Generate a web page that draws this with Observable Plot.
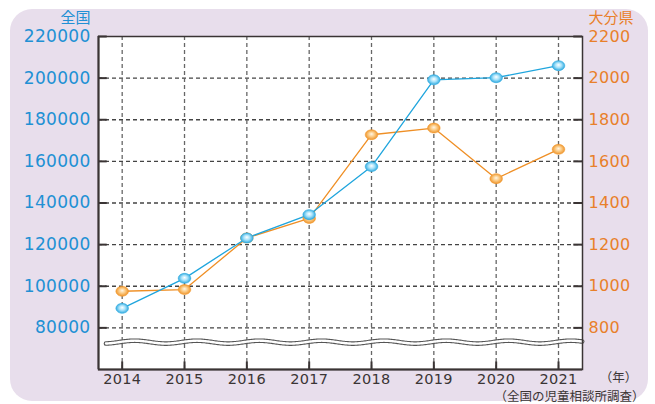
<!DOCTYPE html>
<html>
<head>
<meta charset="utf-8">
<script src="https://cdn.jsdelivr.net/npm/d3@7"></script>
<script src="https://cdn.jsdelivr.net/npm/@observablehq/plot@0.6"></script>
<style>
  html, body { margin: 0; padding: 0; background: #ffffff; }
  #wrap { position: relative; width: 655px; height: 404px; }
  #bg { position: absolute; left: 10px; top: 9px; width: 638px; height: 392px; background: #E8DEEC; border-radius: 22px; }
  #chart { position: absolute; left: 0; top: 0; }
</style>
</head>
<body>
<div id="wrap"><div id="bg"></div><div id="chart"></div></div>
<script>
const years = [2014, 2015, 2016, 2017, 2018, 2019, 2020, 2021];
const national = [89400, 103800, 123200, 134400, 157500, 199200, 200200, 206000];
const oita = [976, 984, 1232, 1326, 1728, 1760, 1517, 1658];
const leftTicks = [80000, 100000, 120000, 140000, 160000, 180000, 200000, 220000];
const rightTicks = [800, 1000, 1200, 1400, 1600, 1800, 2000, 2200];
const gridTicks = [80000, 100000, 120000, 140000, 160000, 180000, 200000];
const leftTitle = "全国";
const rightTitle = "大分県";
const unitLabel = "（年）";
const caption = "（全国の児童相談所調査）";

const ratio = 100; // right axis value * ratio -> left axis scale
const xDomain = [2013.62, 2021.385];
const yDomain = [60000, 220000];

const natData = years.map((y, i) => ({year: y, value: national[i]}));
const oitaData = years.map((y, i) => ({year: y, value: oita[i] * ratio}));

// decorative axis-break wave (not data)
const waveBase = 73150, waveAmp = 700;
const wave = d3.range(2013.74, xDomain[1] + 0.0001, 0.02).map(x => ({x, y: waveBase + waveAmp * Math.cos(2 * Math.PI * (x - 2014.2))}));

const ellipse = {
  draw(ctx) {
    const rx = 6.3, ry = 5, k = 0.5523;
    ctx.moveTo(rx, 0);
    ctx.bezierCurveTo(rx, ry * k, rx * k, ry, 0, ry);
    ctx.bezierCurveTo(-rx * k, ry, -rx, ry * k, -rx, 0);
    ctx.bezierCurveTo(-rx, -ry * k, -rx * k, -ry, 0, -ry);
    ctx.bezierCurveTo(rx * k, -ry, rx, -ry * k, rx, 0);
    ctx.closePath();
  }
};

const blue = "#1FA5DD", orange = "#EF8F25";
const numFont = "DejaVu Sans, Liberation Sans, sans-serif";
const jpFont = "Noto Sans CJK JP, sans-serif";
const x0 = xDomain[0];

const svg = Plot.plot({
  width: 655,
  height: 404,
  marginLeft: 98,
  marginRight: 73,
  marginTop: 36,
  marginBottom: 35,
  style: {background: "transparent", overflow: "visible"},
  x: {domain: xDomain, axis: null},
  y: {domain: yDomain, axis: null},
  marks: [
    Plot.frame({fill: "white", stroke: "none"}),
    Plot.ruleY(gridTicks, {stroke: "#444", strokeWidth: 1.3, strokeDasharray: "4,3"}),
    Plot.ruleX(years, {stroke: "#666", strokeWidth: 1.3, strokeDasharray: "4,3"}),
    Plot.line(wave, {x: "x", y: "y", stroke: "#555", strokeWidth: 4.6, curve: "linear"}),
    Plot.line(wave, {x: "x", y: "y", stroke: "white", strokeWidth: 2.4, curve: "linear"}),
    Plot.line(oitaData, {x: "year", y: "value", stroke: orange, strokeWidth: 1.3}),
    Plot.line(natData, {x: "year", y: "value", stroke: blue, strokeWidth: 1.3}),
    Plot.dot(oitaData, {x: "year", y: "value", symbol: ellipse, fill: "url(#gOrange)", stroke: "#F39A2E", strokeWidth: 0.5}),
    Plot.dot(natData, {x: "year", y: "value", symbol: ellipse, fill: "url(#gBlue)", stroke: "#2AAAE0", strokeWidth: 0.5}),
    Plot.frame({stroke: "#3a3434", strokeWidth: 1.5}),
    Plot.ruleX([x0], {stroke: "#3a3434", strokeWidth: 2}),
    Plot.ruleY([yDomain[0]], {stroke: "#3a3434", strokeWidth: 2}),
    Plot.ruleY(leftTicks, {x1: x0, x2: x0 + 0.14, stroke: "#3a3434", strokeWidth: 2}),
    Plot.ruleY(rightTicks.map(d => d * ratio), {x1: xDomain[1] - 0.14, x2: xDomain[1], stroke: "#3a3434", strokeWidth: 2}),
    Plot.ruleX(years, {y1: yDomain[0], y2: yDomain[0] + 3600, stroke: "#3a3434", strokeWidth: 2}),
    Plot.text(leftTicks, {y: d => d, text: d => String(d), frameAnchor: "left", dx: -8, textAnchor: "end", fill: "#2190D4", fontSize: 17, fontFamily: numFont}),
    Plot.text(rightTicks, {y: d => d * ratio, text: d => String(d), frameAnchor: "right", dx: 6, textAnchor: "start", fill: "#E8802A", fontSize: 16, fontFamily: numFont}),
    Plot.text(years, {x: d => d, text: d => String(d), frameAnchor: "bottom", lineAnchor: "top", dy: 4, fill: "#3b3535", fontSize: 14.5, fontFamily: numFont}),
    Plot.text([leftTitle], {frameAnchor: "top-left", dx: -8, dy: -14, textAnchor: "end", lineAnchor: "bottom", fill: "#2190D4", fontSize: 15, fontFamily: jpFont}),
    Plot.text([rightTitle], {frameAnchor: "top-right", dx: 6, dy: -14, textAnchor: "start", lineAnchor: "bottom", fill: "#E8802A", fontSize: 15, fontFamily: jpFont}),
    Plot.text([unitLabel], {frameAnchor: "bottom-right", dx: 36, dy: 4, textAnchor: "middle", lineAnchor: "top", fill: "#3b3535", fontSize: 12.5, fontFamily: jpFont}),
    Plot.text([caption], {frameAnchor: "bottom-right", dx: 62, dy: 23, textAnchor: "end", lineAnchor: "top", fill: "#3b3535", fontSize: 12.5, fontFamily: jpFont})
  ]
});

const defs = d3.select(svg).insert("defs", ":first-child");
function grad(id, c0, c1, c2) {
  const g = defs.append("radialGradient").attr("id", id).attr("cx", "50%").attr("cy", "50%").attr("r", "55%").attr("fx", "50%").attr("fy", "42%");
  g.append("stop").attr("offset", "0%").attr("stop-color", c0);
  g.append("stop").attr("offset", "45%").attr("stop-color", c1);
  g.append("stop").attr("offset", "100%").attr("stop-color", c2);
}
grad("gBlue", "#FFFFFF", "#A6E2FA", "#1C9FDA");
grad("gOrange", "#FFF6E6", "#FBCB85", "#EC8A1C");

d3.select(svg).selectAll("text").filter(function() {
  return /^\d+$/.test(this.textContent);
}).style("letter-spacing", "0.3px");

document.getElementById("chart").appendChild(svg);
</script>
</body>
</html>
